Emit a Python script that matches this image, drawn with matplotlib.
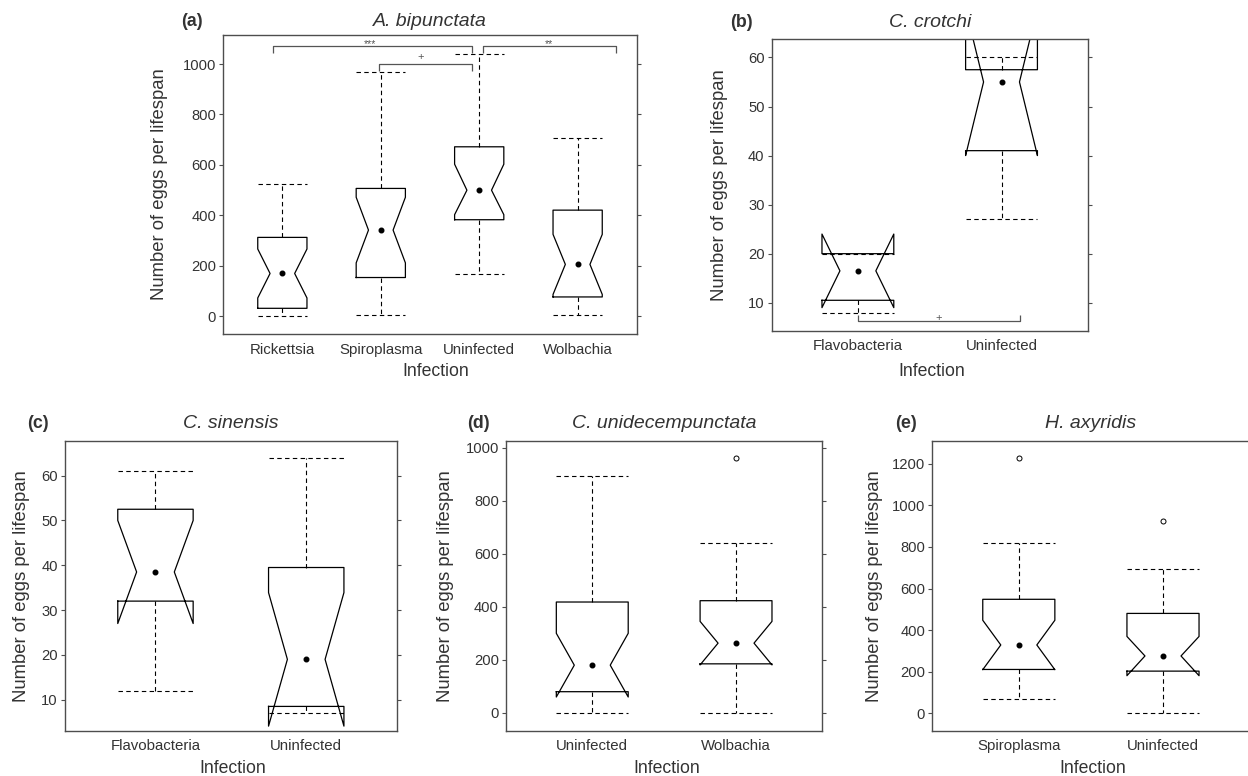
import numpy as np
import matplotlib
matplotlib.use("Agg")
import matplotlib.pyplot as plt

plt.rcParams['font.family'] = ['Liberation Sans', 'DejaVu Sans']

W, H = 1248, 776

# ---------------- data ----------------
# (a) A. bipunctata
a_cats = ['Rickettsia', 'Spiroplasma', 'Uninfected', 'Wolbachia']
a_whislo = [0, 5, 166, 7]
a_q1 = [32, 154, 383, 77]
a_med = [170, 342, 500, 206]
a_q3 = [313, 507, 672, 421]
a_whishi = [525, 970, 1038, 706]
a_cilo = [73, 212, 403, 87]
a_cihi = [267, 472, 603, 325]
a_fliers = [[], [], [], []]

# (b) C. crotchi
b_cats = ['Flavobacteria', 'Uninfected']
b_whislo = [8, 27]
b_q1 = [10.5, 41]
b_med = [16.5, 55]
b_q3 = [20, 57.5]
b_whishi = [20, 60]
b_cilo = [9, 40]
b_cihi = [24, 70]
b_fliers = [[], []]

# (c) C. sinensis
c_cats = ['Flavobacteria', 'Uninfected']
c_whislo = [12, 7]
c_q1 = [32, 8.5]
c_med = [38.5, 19]
c_q3 = [52.5, 39.5]
c_whishi = [61, 64]
c_cilo = [27, 4.1]
c_cihi = [50, 33.9]
c_fliers = [[], []]

# (d) C. unidecempunctata
d_cats = ['Uninfected', 'Wolbachia']
d_whislo = [0, 0]
d_q1 = [80, 185]
d_med = [180, 263]
d_q3 = [418, 423]
d_whishi = [892, 639]
d_cilo = [60, 181]
d_cihi = [300, 345]
d_fliers = [[], [961]]

# (e) H. axyridis
e_cats = ['Spiroplasma', 'Uninfected']
e_whislo = [67, 0]
e_q1 = [210, 202]
e_med = [328, 275]
e_q3 = [548, 480]
e_whishi = [819, 694]
e_cilo = [209, 180]
e_cihi = [447, 369]
e_fliers = [[1229], [924]]

TXT = '#333333'
SPN = '#4d4d4d'

fig = plt.figure(figsize=(W / 100, H / 100), dpi=100)


def fx(x):
    return x / W


def fy(y):
    return 1 - y / H


def add_ax(l, r, t, b):
    return fig.add_axes([l / W, 1 - b / H, (r - l) / W, (b - t) / H])


dash = (0, (4, 3))


def panel(ax, cats, whislo, q1, med, q3, whishi, cilo, cihi, fliers,
          ylim, yticks):
    n = len(cats)
    pos = np.arange(1, n + 1)
    stats = []
    for i in range(n):
        stats.append(dict(label=cats[i], whislo=whislo[i], q1=q1[i],
                          med=med[i], q3=q3[i], whishi=whishi[i],
                          cilo=cilo[i], cihi=cihi[i],
                          fliers=np.array(fliers[i], dtype=float)))
    ax.bxp(stats, positions=pos, widths=0.5, capwidths=0.5, shownotches=True,
           showfliers=True, manage_ticks=False,
           boxprops=dict(color='black', lw=0.9),
           whiskerprops=dict(color='black', lw=0.8, linestyle=dash),
           capprops=dict(color='black', lw=0.8, linestyle=dash),
           medianprops=dict(linestyle='none'),
           flierprops=dict(marker='o', markerfacecolor='none',
                           markeredgecolor='black', markersize=3.6,
                           markeredgewidth=0.7, linestyle='none'))
    ax.plot(pos, med, 'o', color='black', ms=3.3, ls='none', zorder=5)
    ax.set_xlim(0.4, n + 0.6)
    ax.set_ylim(*ylim)
    ax.set_yticks(yticks)
    ax.set_xticks(pos)
    ax.set_xticklabels(cats)
    for s in ax.spines.values():
        s.set_color(SPN)
        s.set_linewidth(1.0)
    ax.tick_params(axis='y', left=True, right=True, direction='out',
                   length=2.6, width=0.8, color=SPN, labelsize=10.6,
                   labelcolor=TXT, pad=2.5)
    ax.tick_params(axis='x', length=0, labelsize=10.8, labelcolor=TXT,
                   pad=6)


def labels(letter, lx, ly, title, tx, ylab_x, ylab_y, xlab_x, xlab_y):
    fig.text(fx(lx), fy(ly), letter, fontsize=12.8, fontweight='bold',
             color=TXT, ha='left', va='center')
    fig.text(fx(tx), fy(ly), title, fontsize=14, fontstyle='italic',
             color=TXT, ha='center', va='center')
    fig.text(fx(ylab_x), fy(ylab_y), 'Number of eggs per lifespan',
             fontsize=13.3, color=TXT, rotation=90, ha='center',
             va='center')
    fig.text(fx(xlab_x), fy(xlab_y), 'Infection', fontsize=12.7,
             color=TXT, ha='center', va='center')


BR = '#555555'


def bracket(ax, x0, x1, y, ytick, text, tx, ty, fs):
    ax.plot([x0, x0, x1, x1], [ytick, y, y, ytick], color=BR, lw=0.9,
            solid_capstyle='butt', clip_on=False)
    ax.text(tx, ty, text, color=BR, fontsize=fs, ha='center', va='center')


# ---------- (a) ----------
axa = add_ax(223.3, 636.7, 35, 334.3)
panel(axa, a_cats, a_whislo, a_q1, a_med, a_q3, a_whishi, a_cilo, a_cihi,
      a_fliers, (-71, 1115), [0, 200, 400, 600, 800, 1000])
bracket(axa, 0.91, 2.93, 1071, 1045, '***', 1.89, 1078, 7.5)
bracket(axa, 3.04, 4.39, 1071, 1045, '**', 3.71, 1078, 7.5)
bracket(axa, 1.98, 2.93, 1001, 972, '+', 2.41, 1028, 8)
labels('(a)', 180.7, 22, 'A. bipunctata', 430, 160, 184.5, 435.8, 371.7)

# ---------- (b) ----------
axb = add_ax(771.7, 1087.7, 39.3, 330.7)
panel(axb, b_cats, b_whislo, b_q1, b_med, b_q3, b_whishi, b_cilo, b_cihi,
      b_fliers, (4.3, 63.7), [10, 20, 30, 40, 50, 60])
bracket(axb, 1.0, 2.13, 6.2, 7.4, '+', 1.56, 6.9, 8)
labels('(b)', 730, 22.7, 'C. crotchi', 930, 720, 185, 932, 371.7)

# ---------- (c) ----------
axc = add_ax(65, 396.7, 440.7, 730.7)
panel(axc, c_cats, c_whislo, c_q1, c_med, c_q3, c_whishi, c_cilo, c_cihi,
      c_fliers, (3.08, 67.8), [10, 20, 30, 40, 50, 60])
labels('(c)', 27, 423.3, 'C. sinensis', 231, 21.7, 585.7, 233, 768.3)

# ---------- (d) ----------
axd = add_ax(506, 822.3, 440.7, 730.7)
panel(axd, d_cats, d_whislo, d_q1, d_med, d_q3, d_whishi, d_cilo, d_cihi,
      d_fliers, (-67, 1026), [0, 200, 400, 600, 800, 1000])
labels('(d)', 466.7, 423.3, 'C. unidecempunctata', 664, 445, 585.7,
       666.7, 768.3)

# ---------- (e) ----------
axe = add_ax(932.3, 1249.5, 440.7, 730.7)
panel(axe, e_cats, e_whislo, e_q1, e_med, e_q3, e_whishi, e_cilo, e_cihi,
      e_fliers, (-85, 1312), [0, 200, 400, 600, 800, 1000, 1200])
labels('(e)', 895, 423.3, 'H. axyridis', 1091, 875, 585.7, 1093, 768.3)

fig.savefig('out.png', dpi=100)
